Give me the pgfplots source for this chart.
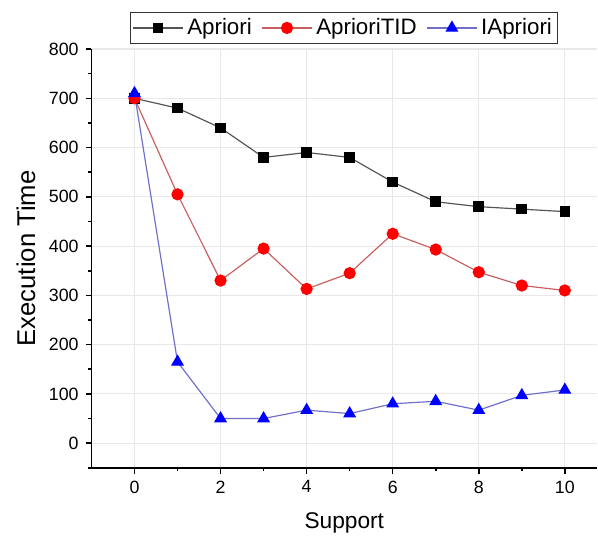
\documentclass[border={5pt 0pt 0pt 6pt}]{standalone}
\usepackage{fontspec}
\setmainfont{Liberation Sans}
\usepackage{pgfplots}
\pgfplotsset{compat=1.18}
\definecolor{lineblack}{HTML}{555555}
\definecolor{linered}{HTML}{C86060}
\definecolor{lineblue}{HTML}{7070C8}
\begin{document}
\begin{tikzpicture}
\begin{axis}[
    scale only axis,
    width=256pt, height=212pt,
    xmin=-1, xmax=10.75,
    ymin=-50, ymax=800,
    axis x line*=bottom,
    axis y line*=left,
    axis line style={line width=0.9pt, -},
    xtick={0,2,...,10},
    ytick={0,100,...,800},
    minor xtick={1,3,...,9},
    minor ytick={-50,50,...,750},
    tick align=outside,
    major tick length=3pt,
    minor tick length=1.8pt,
    every tick/.style={black, line width=0.8pt},
    xmajorgrids, ymajorgrids,
    grid style={gray!18, line width=0.6pt},
    tick label style={font=\fontsize{9}{11}\selectfont},
    /pgf/number format/assume math mode=true,
    xlabel={Support},
    ylabel={Execution Time},
    xlabel style={font=\fontsize{11.5}{13}\selectfont, yshift=-3pt},
    ylabel style={font=\fontsize{13}{14}\selectfont, yshift=0pt},
    legend columns=3,
    legend style={at={(0.5,1.012)}, anchor=south, draw=black!80, line width=0.6pt,
        font=\fontsize{11.3}{12}\selectfont, inner sep=1pt,
        /tikz/every even column/.append style={column sep=3pt}},
    legend image code/.code={
        \draw[mark repeat=2, mark phase=2, #1]
            plot coordinates {(0cm,0cm) (0.44cm,0cm) (0.88cm,0cm)};
    },
    legend cell align=left,
]
\addplot[lineblack, line width=0.6pt, mark=square*, mark size=2.4pt,
    mark options={fill=black, draw=black}]
    coordinates {(0,700) (1,680) (2,640) (3,580) (4,590) (5,580) (6,530) (7,490) (8,480) (9,475) (10,470)};
\addplot[linered, line width=0.6pt, mark=*, mark size=2.8pt,
    mark options={fill=red, draw=red}]
    coordinates {(0,700) (1,505) (2,330) (3,395) (4,313) (5,345) (6,425) (7,393) (8,347) (9,320) (10,310)};
\addplot[lineblue, line width=0.6pt, mark=triangle*, mark size=3.2pt,
    mark options={fill=blue, draw=blue}]
    coordinates {(0,710) (1,165) (2,50) (3,50) (4,67) (5,60) (6,80) (7,85) (8,67) (9,97) (10,108)};
\legend{Apriori, AprioriTID, IApriori}
\end{axis}
\end{tikzpicture}
\end{document}
